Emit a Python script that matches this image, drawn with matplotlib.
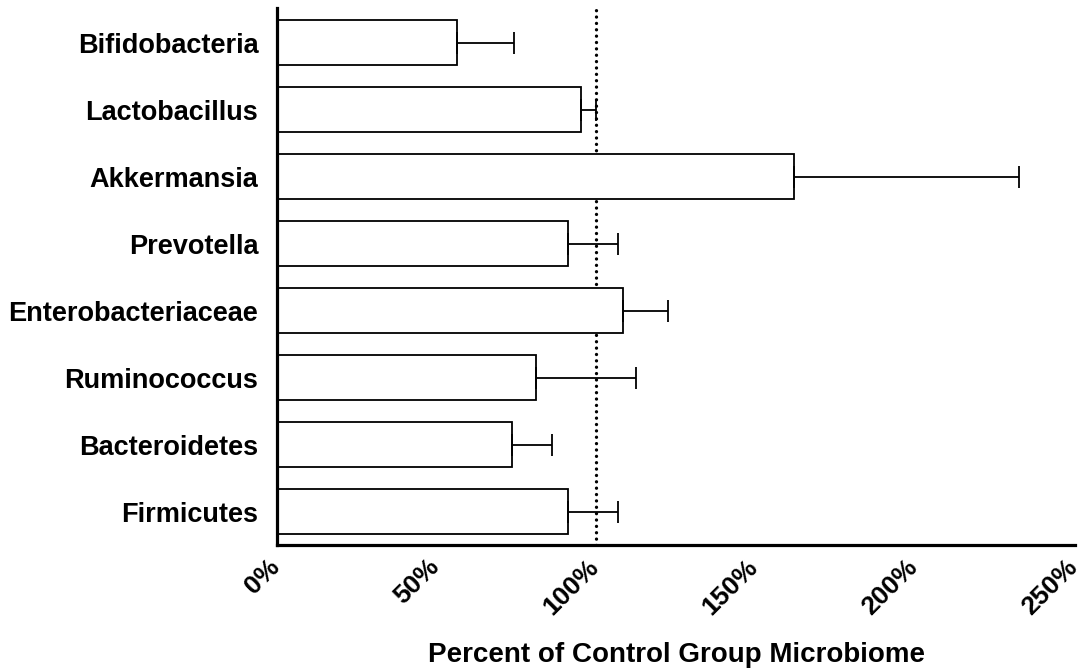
import numpy as np
import matplotlib
matplotlib.use('Agg')
import matplotlib.pyplot as plt
import matplotlib.transforms as mtrans
from matplotlib.ticker import FuncFormatter

plt.rcParams['font.family'] = ['Liberation Sans', 'DejaVu Sans']
plt.rcParams['font.weight'] = 'bold'

taxa = ['Bifidobacteria', 'Lactobacillus', 'Akkermansia', 'Prevotella',
        'Enterobacteriaceae', 'Ruminococcus', 'Bacteroidetes', 'Firmicutes']
pct_mean = [56.3, 95.3, 162.1, 91.1, 108.4, 81.0, 73.6, 91.2]
pct_err = [18.0, 4.7, 70.5, 15.6, 14.1, 31.6, 12.7, 15.7]
xticks = [0, 50, 100, 150, 200, 250]

fig = plt.figure(figsize=(10.85, 6.69), dpi=100)
ax = fig.add_axes([0.2553, 0.1853, 0.7355, 0.8027])

y = np.arange(len(taxa))
ax.axvline(100, color='black', lw=2.4, linestyle=(0, (0.01, 1.9)),
           dash_capstyle='round', zorder=1)
ax.barh(y, pct_mean, height=0.67, color='white', edgecolor='black',
        linewidth=1.3, zorder=2)
ax.errorbar(pct_mean, y, xerr=[np.zeros(len(pct_err)), pct_err], fmt='none',
            ecolor='black', elinewidth=1.3, capsize=8, capthick=1.3, zorder=3)

ax.set_xlim(0, 250)
ax.set_ylim(7.5, -0.52)
ax.set_yticks(y)
ax.set_yticklabels(taxa, fontsize=19.5, fontweight='bold')
ax.set_xticks(xticks)
ax.xaxis.set_major_formatter(FuncFormatter(lambda v, p: '%d%%' % v))
ax.tick_params(axis='both', length=0)
ax.tick_params(axis='x', pad=7)
ax.tick_params(axis='y', pad=13.5)
shift = mtrans.ScaledTranslation(0.07, 0, fig.dpi_scale_trans)
for lab in ax.get_xticklabels():
    lab.set_rotation(45)
    lab.set_ha('right')
    lab.set_fontsize(19)
    lab.set_fontweight('bold')
    lab.set_transform(lab.get_transform() + shift)

ax.spines['top'].set_visible(False)
ax.spines['right'].set_visible(False)
ax.spines['left'].set_linewidth(2.3)
ax.spines['bottom'].set_linewidth(2.3)

ax.set_xlabel('Percent of Control Group Microbiome', fontsize=20,
              fontweight='bold', labelpad=16)

fig.savefig('out.png', dpi=100)
